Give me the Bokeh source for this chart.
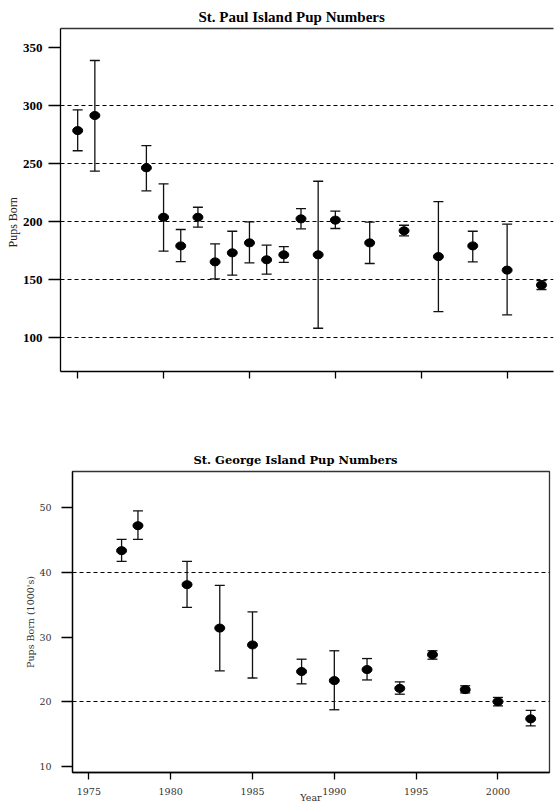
from bokeh.plotting import figure
from bokeh.models import (ColumnDataSource, Whisker, TeeHead, FixedTicker, Title,
                          LinearAxis, Range1d)
from bokeh.layouts import column
from bokeh.embed import file_html
from bokeh.resources import INLINE

# ---- St. Paul Island data (thousands of pups) ----
sp_years = [1975, 1976, 1979, 1980, 1981, 1982, 1983, 1984, 1985, 1986,
            1987, 1988, 1989, 1990, 1992, 1994, 1996, 1998, 2000, 2002]
sp_pups = [278.4, 291.4, 246.3, 203.7, 179.0, 203.7, 165.2, 173.0, 181.6, 167.0,
           171.3, 202.3, 171.3, 201.2, 181.6, 192.0, 169.8, 179.0, 158.1, 145.2]
sp_upper = [296.3, 338.8, 265.5, 232.5, 193.1, 212.3, 180.7, 191.6, 199.7, 179.6,
            178.4, 211.2, 234.7, 209.0, 199.4, 196.8, 217.2, 191.6, 197.7, 149.1]
sp_lower = [261.0, 243.4, 226.5, 174.4, 165.5, 195.1, 150.6, 153.7, 164.4, 154.6,
            164.7, 193.7, 108.0, 194.0, 163.8, 187.7, 122.4, 165.2, 119.6, 141.4]
sp_yticks = [100, 150, 200, 250, 300, 350]
sp_grid = [100, 150, 200, 250, 300]

# ---- St. George Island data (thousands of pups) ----
sg_years = [1977, 1978, 1981, 1983, 1985, 1988, 1990, 1992, 1994, 1996, 1998, 2000, 2002]
sg_pups = [43.35, 47.2, 38.1, 31.4, 28.8, 24.7, 23.3, 25.0, 22.1, 27.3, 21.9, 20.05, 17.4]
sg_upper = [45.1, 49.5, 41.7, 38.0, 33.9, 26.6, 27.9, 26.7, 23.1, 27.9, 22.5, 20.7, 18.7]
sg_lower = [41.7, 45.1, 34.6, 24.8, 23.7, 22.8, 18.8, 23.4, 21.2, 26.6, 21.4, 19.4, 16.3]
sg_yticks = [10, 20, 30, 40, 50]
sg_grid = [20, 40]
xticks = [1975, 1980, 1985, 1990, 1995, 2000]

TIMES = "Liberation Serif"
DJ = "DejaVu Serif"


def add_points(p, years, pups, upper, lower):
    src = ColumnDataSource(dict(x=years, y=pups, upper=upper, lower=lower))
    w = Whisker(base="x", upper="upper", lower="lower", source=src, dimension="height",
                line_color="#111111", line_width=1.3,
                upper_head=TeeHead(size=10, line_color="#111111", line_width=1.3),
                lower_head=TeeHead(size=10, line_color="#111111", line_width=1.3))
    p.add_layout(w)
    p.ellipse(x="x", y="y", width=10, height=8, width_units="screen", height_units="screen",
              source=src, fill_color="black", line_color="black")


# ================= Top chart =================
p1 = figure(width=554, height=400, x_range=Range1d(1974.0, 2002.7),
            y_range=Range1d(70.7, 366.4), output_backend="svg", toolbar_location=None,
            min_border_left=60, min_border_right=1, min_border_top=28, min_border_bottom=29)
p1.frame_align = False
p1.outline_line_color = None
p1.xgrid.visible = False
p1.ygrid.ticker = FixedTicker(ticks=sp_grid)
p1.ygrid.grid_line_color = "black"
p1.ygrid.grid_line_dash = "4 3"
p1.ygrid.grid_line_width = 1

p1.yaxis.ticker = FixedTicker(ticks=sp_yticks)
p1.yaxis.major_tick_out = 12
p1.yaxis.major_tick_in = 0
p1.yaxis.minor_tick_line_color = None
p1.yaxis.major_label_standoff = 6
p1.yaxis.major_label_text_font = TIMES
p1.yaxis.major_label_text_font_style = "bold"
p1.yaxis.major_label_text_font_size = "13px"
p1.yaxis.major_label_text_color = "black"
p1.yaxis.axis_line_color = "black"
p1.yaxis.axis_line_width = 1.3
p1.yaxis.major_tick_line_width = 1.3

p1.xaxis.ticker = FixedTicker(ticks=xticks)
p1.xaxis.major_tick_out = 7
p1.xaxis.major_tick_in = 0
p1.xaxis.minor_tick_line_color = None
p1.xaxis.major_label_overrides = {t: "" for t in xticks}
p1.xaxis.axis_line_color = "black"
p1.xaxis.axis_line_width = 1.3
p1.xaxis.major_tick_line_width = 1.3

top1 = LinearAxis(ticker=FixedTicker(ticks=[]), major_tick_out=0, major_label_standoff=0,
                  major_tick_line_color=None, minor_tick_line_color=None,
                  axis_line_color="#333333", axis_line_width=1.3)
p1.add_layout(top1, "above")
p1.add_layout(Title(text="St. Paul Island Pup Numbers", align="left", offset=138,
                    text_font=TIMES, text_font_style="bold", text_font_size="15px",
                    text_color="black", standoff=7), "above")
p1.add_layout(Title(text="Pups Born", align="left", offset=124,
                    text_font=TIMES, text_font_style="normal", text_font_size="12px",
                    text_color="#222222", standoff=0), "left")

add_points(p1, sp_years, sp_pups, sp_upper, sp_lower)

# ================= Bottom chart =================
p2 = figure(width=554, height=406, x_range=Range1d(1974.0, 2003.15),
            y_range=Range1d(9.12, 55.56), output_backend="svg", toolbar_location=None,
            min_border_left=72, min_border_right=5, min_border_top=71, min_border_bottom=34)
p2.frame_align = False
p2.outline_line_color = "#333333"
p2.outline_line_width = 1.3
p2.xgrid.visible = False
p2.ygrid.ticker = FixedTicker(ticks=sg_grid)
p2.ygrid.grid_line_color = "black"
p2.ygrid.grid_line_dash = "4 3"
p2.ygrid.grid_line_width = 1

p2.yaxis.ticker = FixedTicker(ticks=sg_yticks)
p2.yaxis.major_tick_out = 11
p2.yaxis.major_tick_in = 0
p2.yaxis.minor_tick_line_color = None
p2.yaxis.major_label_standoff = 10
p2.yaxis.major_label_text_font = DJ
p2.yaxis.major_label_text_font_size = "9.5px"
p2.yaxis.major_label_text_color = "#333333"
p2.yaxis.axis_line_color = "black"
p2.yaxis.axis_line_width = 1.3
p2.yaxis.major_tick_line_width = 1.3
p2.yaxis.axis_label = "Pups Born (1000's)"
p2.yaxis.axis_label_text_font = DJ
p2.yaxis.axis_label_text_font_style = "normal"
p2.yaxis.axis_label_text_font_size = "9.5px"
p2.yaxis.axis_label_text_color = "#333333"
p2.yaxis.axis_label_standoff = 0

p2.xaxis.ticker = FixedTicker(ticks=xticks)
p2.xaxis.major_tick_out = 7
p2.xaxis.major_tick_in = 0
p2.xaxis.minor_tick_line_color = None
p2.xaxis.major_label_standoff = 8
p2.xaxis.major_label_text_font = DJ
p2.xaxis.major_label_text_font_size = "9.5px"
p2.xaxis.major_label_text_color = "#333333"
p2.xaxis.axis_line_color = "black"
p2.xaxis.axis_line_width = 1.3
p2.xaxis.major_tick_line_width = 1.3
p2.xaxis.axis_label = "Year"
p2.xaxis.axis_label_text_font = DJ
p2.xaxis.axis_label_text_font_style = "normal"
p2.xaxis.axis_label_text_font_size = "9.5px"
p2.xaxis.axis_label_text_color = "#333333"
p2.xaxis.axis_label_standoff = -6

p2.add_layout(Title(text="St. George Island Pup Numbers", align="left", offset=121,
                    text_font=DJ, text_font_style="bold", text_font_size="11.5px",
                    text_color="black", standoff=9), "above")

add_points(p2, sg_years, sg_pups, sg_upper, sg_lower)

layout = column(p1, p2, spacing=0)
open("out.html", "w").write(file_html(layout, INLINE))
